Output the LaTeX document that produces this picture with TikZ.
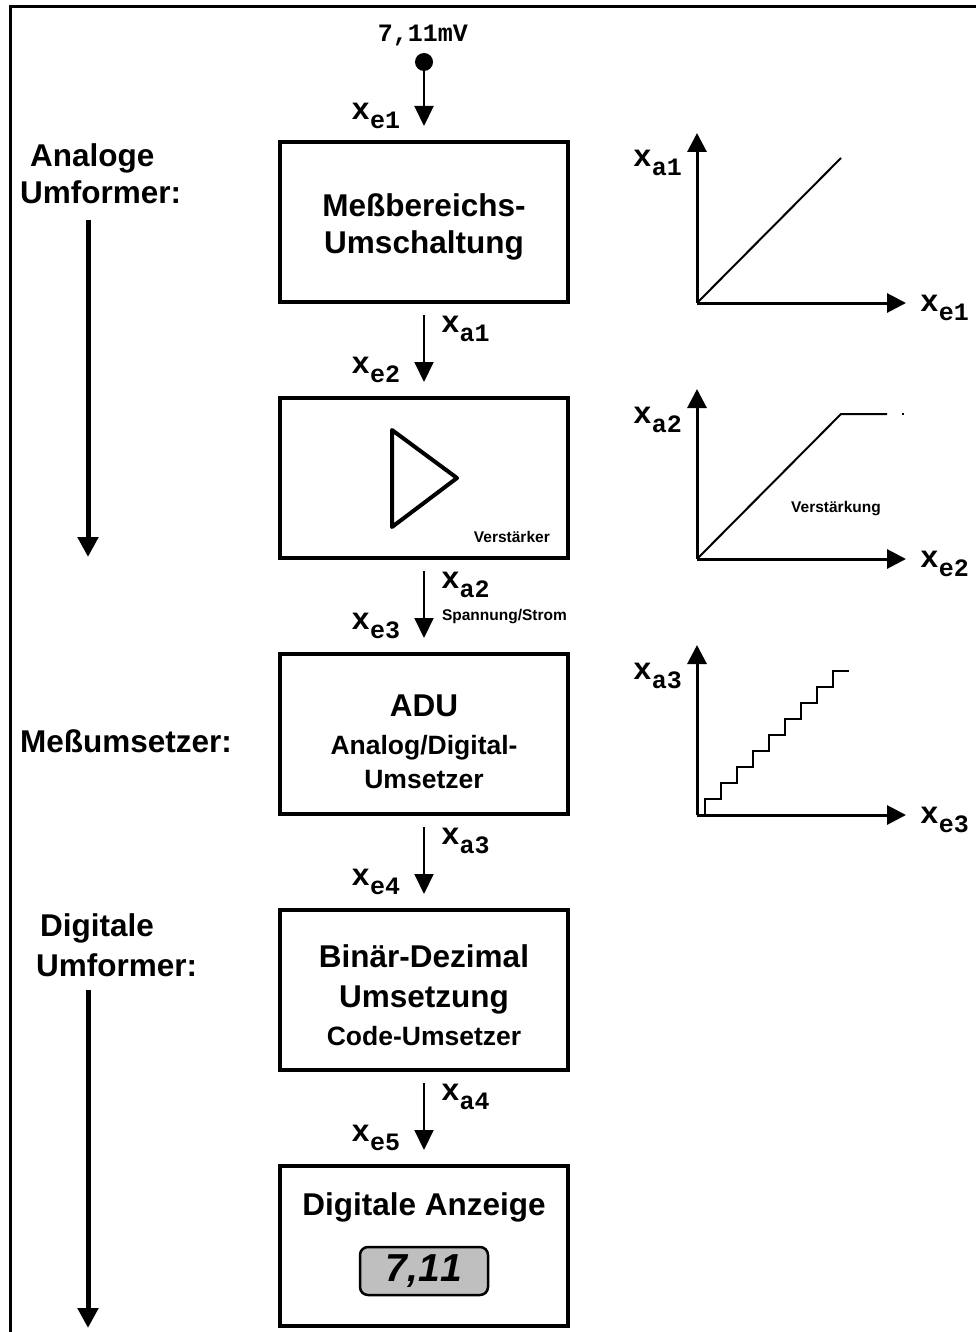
\documentclass[tikz,border=0pt]{standalone}
\usepackage{fontspec}
\setmainfont{Liberation Sans}
\newfontfamily\mono{Liberation Mono}
\usetikzlibrary{arrows.meta,positioning}
\newcommand{\sig}[2]{{\fontsize{31}{34}\selectfont x}\raisebox{-9pt}{#1#2}}
\newcommand{\kennlinie}[1]{%
  \draw[axis] (0,0) -- (0,-170);
  \draw[axis] (0,0) -- (209,0);
  \node[var, anchor=base east] at (-15,-136) {\sig{a}{#1}};
  \node[var, anchor=base west] at (223,8) {\sig{e}{#1}};}
\newcommand{\klein}{\fontsize{26.5}{34}\selectfont}

\begin{document}
\begin{tikzpicture}[x=1pt,y=-1pt,
  box/.style={draw, line width=4pt, minimum width=288pt, minimum height=160pt,
    inner sep=0pt, align=center, font=\bfseries\fontsize{31.5}{37}\selectfont},
  sig/.style={line width=2pt, -{Triangle[width=19pt,length=20pt]}},
  flow/.style={line width=5pt, -{Triangle[width=20pt,length=20pt]}},
  axis/.style={line width=3pt, -{Triangle[width=19pt,length=19pt]}},
  curve/.style={line width=2pt},
  var/.style={inner sep=0pt, font=\mono\bfseries\fontsize{25}{30}\selectfont},
  small/.style={inner sep=0pt, font=\bfseries\fontsize{15.5}{18}\selectfont},
  side/.style={inner sep=0pt, anchor=base west, font=\bfseries\fontsize{31.5}{37}\selectfont},
  node distance=92pt]

\useasboundingbox (0,0) rectangle (976,1332);
\draw[line width=3pt] (10,1332) -- (10,7) -- (976,7);

% Messkette
\node[box] (b1) at (424,222) {\rule{0pt}{32pt}Meßbereichs-\\Umschaltung};
\node[box, below=of b1] (b2) {};
\node[box, below=of b2] (b3) {\rule{0pt}{37pt}ADU\\[1pt]{\klein Analog/Digital-}\\[-3pt]{\klein Umsetzer}};
\node[box, below=of b3] (b4) {\rule{0pt}{33pt}Binär-Dezimal\\[3pt]Umsetzung\\[1pt]{\klein Code-Umsetzer}};
\node[box, below=of b4] (b5) {};

\draw[line width=4pt, line join=round] ([shift={(-32,-48)}]b2.center) -- ([shift={(33,0)}]b2.center)
  -- ([shift={(-32,49)}]b2.center) -- cycle;
\node[small, anchor=base east] (verst) at ([xshift=-20pt,yshift=18pt]b2.south east) {Verstärker};

\node[inner sep=0pt, anchor=base, font=\bfseries\fontsize{31.5}{37}\selectfont] (title)
  at ([yshift=-51pt]b5.north) {Digitale Anzeige};
\node[draw, line width=2.5pt, rounded corners=8pt, fill=gray!50, minimum width=128pt,
  minimum height=48pt, inner sep=0pt, font=\bfseries\itshape\fontsize{39}{44}\selectfont]
  (disp) at ([yshift=-25pt]b5.center) {7,1\kern1pt1};

% Eingang
\node[circle, fill, inner sep=0pt, minimum size=18pt] (in) at (424,62) {};
\node[var, anchor=base] (inval) at (423,42) {7,11mV};
\draw[sig, shorten >=14pt] (in) -- node[var, pos=.7, anchor=base east, xshift=-23pt] {\sig{e}{1}} (b1);

% Verbindungen
\draw[sig, shorten <=11pt, shorten >=14pt] (b1) --
  node[var, pos=.31, anchor=base west, xshift=16pt] {\sig{a}{1}}
  node[var, pos=.76, anchor=base east, xshift=-23pt] {\sig{e}{2}} (b2);
\draw[sig, shorten <=11pt, shorten >=14pt] (b2) --
  node[var, pos=.31, anchor=base west, xshift=16pt] {\sig{a}{2}}
  node[small, pos=.66, anchor=base west, xshift=17pt] {Spannung/Strom}
  node[var, pos=.76, anchor=base east, xshift=-23pt] {\sig{e}{3}} (b3);
\draw[sig, shorten <=11pt, shorten >=14pt] (b3) --
  node[var, pos=.31, anchor=base west, xshift=16pt] {\sig{a}{3}}
  node[var, pos=.76, anchor=base east, xshift=-23pt] {\sig{e}{4}} (b4);
\draw[sig, shorten <=11pt, shorten >=14pt] (b4) --
  node[var, pos=.31, anchor=base west, xshift=16pt] {\sig{a}{4}}
  node[var, pos=.76, anchor=base east, xshift=-23pt] {\sig{e}{5}} (b5);

% Seitentexte
\node[side] (ana) at (30,167) {Analoge};
\node[side] (anaum) at (20,204) {Umformer:};
\node[side] (mess) at (20,752) {Meßumsetzer:};
\node[side] (dig) at (40,936) {Digitale};
\node[side] (digum) at (36,976) {Umformer:};
\coordinate (f1) at (88,220);
\coordinate (f2) at (88,557);
\coordinate (f3) at (88,990);
\coordinate (f4) at (88,1328);
\draw[flow] (f1) -- (f2);
\draw[flow] (f3) -- (f4);

% Kennlinien
\begin{scope}[shift={(697,303)}]
  \kennlinie{1}
  \draw[curve] (0,0) -- (144,-145);
\end{scope}
\begin{scope}[shift={(697,559)}]
  \kennlinie{2}
  \draw[curve] (0,0) -- (144,-145) -- (190,-145);
  \draw[curve] (205,-145) -- (207,-145);
  \node[small, anchor=base] (verstg) at (139,-47) {Verstärkung};
\end{scope}
\begin{scope}[shift={(697,815)}]
  \kennlinie{3}
  \draw[curve] (8,0) foreach \i in {1,...,9} { -- ++(0,-16) -- ++(16,0) };
\end{scope}

\end{tikzpicture}
\end{document}
